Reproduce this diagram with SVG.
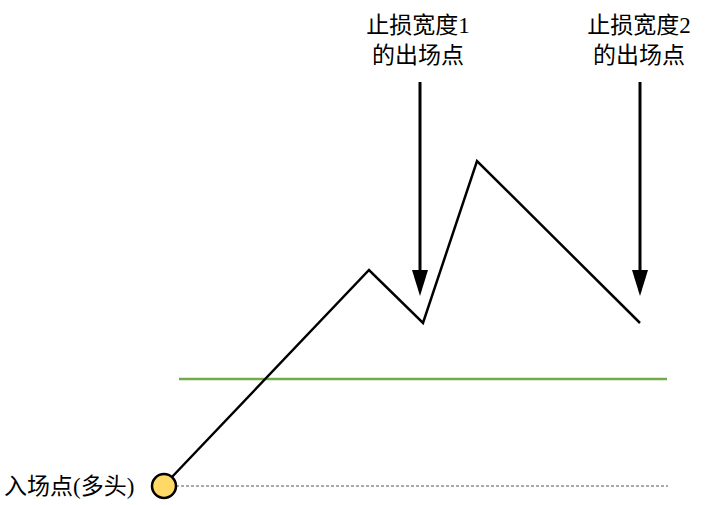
<svg xmlns="http://www.w3.org/2000/svg" width="711" height="505" viewBox="0 0 711 505">
<style>
text{font-family:"Liberation Serif","Noto Sans CJK SC",serif;font-size:23px;fill:#000}
.arr{stroke:#000;stroke-width:3;fill:none}
</style>
<rect width="711" height="505" fill="#fff"/>
<g id="connectors">
<line x1="176" y1="486" x2="668" y2="486" stroke="#555" stroke-width="1" stroke-dasharray="3,2"/>
<line x1="179" y1="379" x2="667" y2="379" stroke="#70ad47" stroke-width="2.5"/>
<polyline points="171,478 369,270 423,323 477,161 640,323" fill="none" stroke="#000" stroke-width="2.5"/>
<line class="arr" x1="420" y1="82" x2="420" y2="272"/>
<polygon points="412,270 428,270 420,296" fill="#000"/>
<line class="arr" x1="640" y1="82" x2="640" y2="272"/>
<polygon points="632,270 648,270 640,296" fill="#000"/>
</g>
<g id="label1"><text x="418" y="33" text-anchor="middle">止损宽度1</text><text x="418" y="63" text-anchor="middle">的出场点</text></g>
<g id="label2"><text x="639" y="33" text-anchor="middle">止损宽度2</text><text x="639" y="63" text-anchor="middle">的出场点</text></g>
<g id="entry"><circle cx="164" cy="486" r="12" fill="#ffd966" stroke="#000" stroke-width="2.5"/><text x="4" y="494">入场点(多头)</text></g>
</svg>
